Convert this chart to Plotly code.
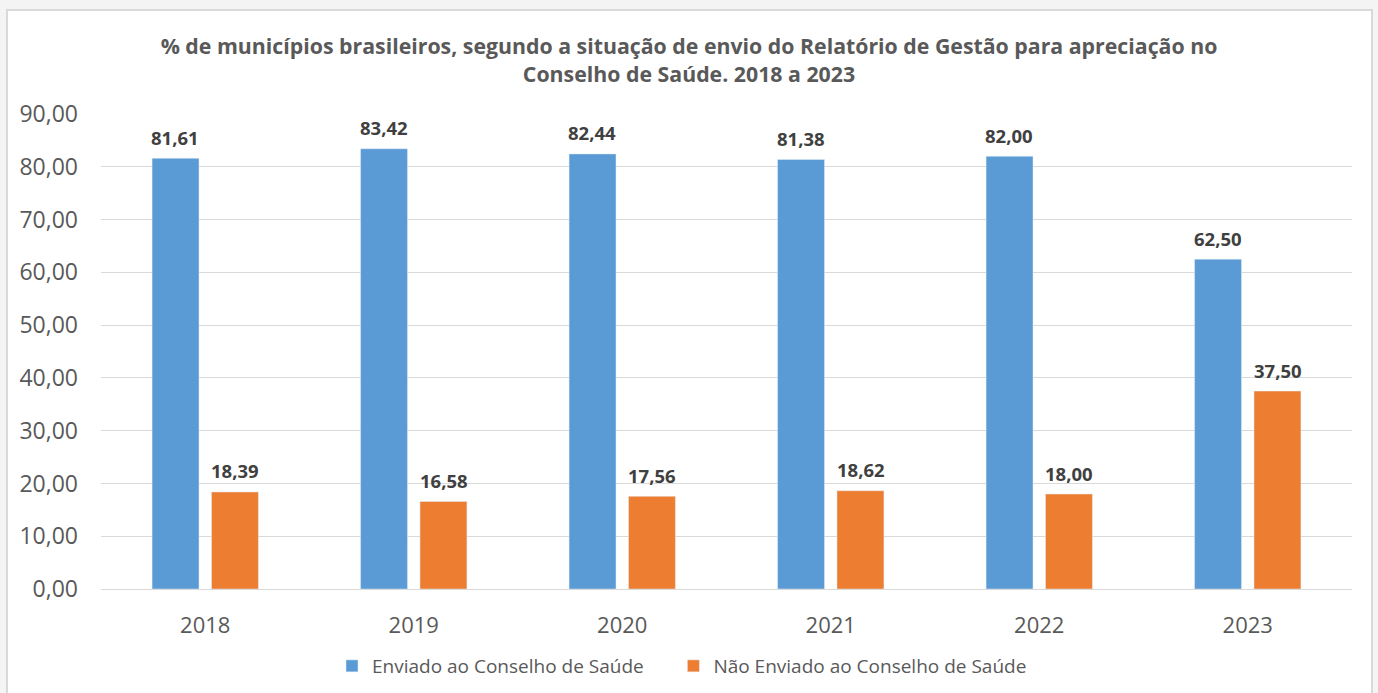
import plotly.graph_objects as go

years = ["2018", "2019", "2020", "2021", "2022", "2023"]
enviado = [81.61, 83.42, 82.44, 81.38, 82.00, 62.50]
nao_enviado = [18.39, 16.58, 17.56, 18.62, 18.00, 37.50]
y_ticks = [0, 10, 20, 30, 40, 50, 60, 70, 80, 90]

FONT = "Open Sans"
GRAY = "#595959"
PAD = "\u00a0" * 5  # extra spacing between legend entries

fig = go.Figure()
fig.add_trace(go.Bar(
    x=years, y=enviado, name="Enviado ao Conselho de Saúde" + PAD,
    marker=dict(color="#5B9BD5"),
))
fig.add_trace(go.Bar(
    x=years, y=nao_enviado, name="Não Enviado ao Conselho de Saúde",
    marker=dict(color="#ED7D31"),
))

# data labels placed above each bar, offset to each bar's group slot
for vals, shift in ((enviado, -30), (nao_enviado, 30)):
    for i, v in enumerate(vals):
        fig.add_annotation(
            x=i, y=v, xref="x", yref="y", text=f"{v:.2f}".replace(".", ","),
            showarrow=False, xshift=shift, yshift=21, yanchor="middle",
            font=dict(family=FONT, size=18.5, color="#404040", weight="bold"),
        )

L, R, T, B = 101, 26, 114, 104
W, H = 1378, 693
pw, ph = W - L - R, H - T - B

def px_x(p):
    return (p - L) / pw

def px_y(p):
    return (H - B - p) / ph

fig.add_shape(type="rect", xref="paper", yref="paper",
              x0=px_x(7), x1=px_x(1372), y0=px_y(720), y1=px_y(10),
              fillcolor="white", line=dict(color="#d9d9d9", width=2), layer="below")

fig.update_layout(
    width=W, height=H,
    margin=dict(l=L, r=R, t=T, b=B, autoexpand=False),
    paper_bgcolor="#f4f4f4", plot_bgcolor="rgba(0,0,0,0)",
    separators=",.",
    barmode="group", bargap=0.43, bargroupgap=0.21,
    font=dict(family=FONT, color=GRAY),
    title=dict(
        text="% de municípios brasileiros, segundo a situação de envio do Relatório de Gestão para apreciação no<br>Conselho de Saúde. 2018 a 2023",
        x=0.5, xanchor="center", xref="container",
        y=1 - 54 / H, yanchor="middle", yref="container",
        font=dict(family=FONT, size=21.3, color=GRAY, weight="bold"),
    ),
    xaxis=dict(
        type="category", categoryorder="array", categoryarray=years,
        range=[-0.5, len(years) - 0.5], autorange=False,
        showgrid=False, showline=False, ticks="", ticklabelstandoff=21,
        tickfont=dict(family=FONT, size=22, color=GRAY),
    ),
    yaxis=dict(
        range=[0, 90], tickvals=y_ticks, tickformat=".2f",
        showgrid=True, gridcolor="#d9d9d9", gridwidth=1,
        zeroline=True, zerolinecolor="#d9d9d9", zerolinewidth=1,
        showline=False, ticks="", ticklabelstandoff=22,
        tickfont=dict(family=FONT, size=23, color=GRAY),
    ),
    legend=dict(
        orientation="h", xref="container", x=682 / W, xanchor="center",
        yref="container", y=1 - 666 / H, yanchor="middle",
        font=dict(family=FONT, size=19, color=GRAY),
        bgcolor="rgba(0,0,0,0)",
        itemwidth=30, tracegroupgap=0,
    ),
)

fig.write_html("out.html")
